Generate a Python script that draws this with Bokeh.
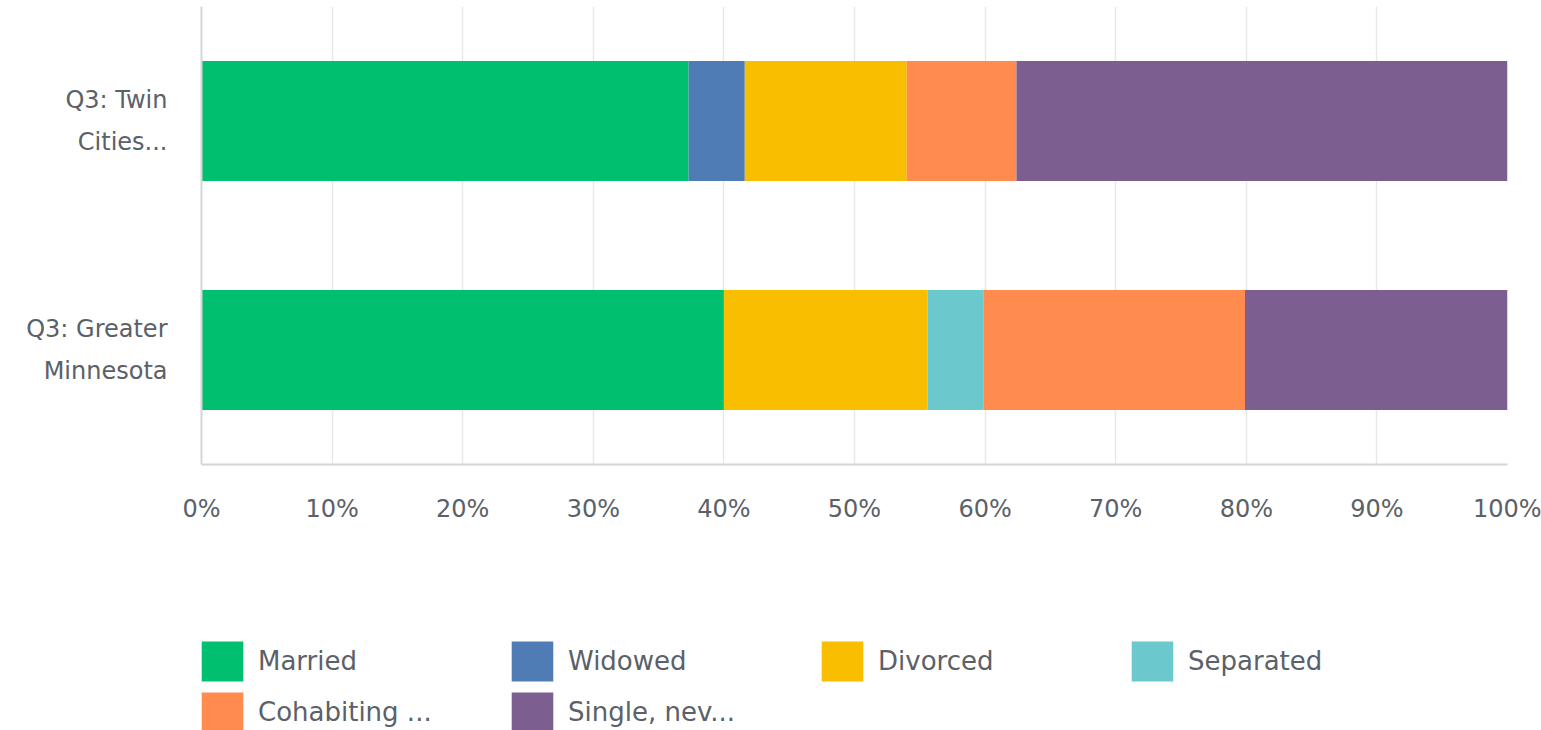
from bokeh.plotting import figure
from bokeh.layouts import column
from bokeh.models import (ColumnDataSource, FactorRange, Range1d, FixedTicker,
                          PrintfTickFormatter, Legend, LegendItem)
from bokeh.embed import file_html
from bokeh.resources import INLINE

# ---- data ----
categories = ["Q3: Greater\nMinnesota", "Q3: Twin\nCities..."]   # bottom -> top
married    = [40.0, 37.3]
widowed    = [0.0, 4.3]
divorced   = [15.6, 12.4]
separated  = [4.3, 0.0]
cohabiting = [20.0, 8.4]
single     = [20.1, 37.6]

series_keys   = ["married", "widowed", "divorced", "separated", "cohabiting", "single"]
legend_labels = ["Married", "Widowed", "Divorced", "Separated", "Cohabiting ...", "Single, nev..."]
colors        = ["#00BF6F", "#507CB6", "#F9BE00", "#6BC8CD", "#FF8B4F", "#7D5E90"]
x_ticks       = [0, 10, 20, 30, 40, 50, 60, 70, 80, 90, 100]

source = ColumnDataSource(dict(cat=categories, married=married, widowed=widowed,
                               divorced=divorced, separated=separated,
                               cohabiting=cohabiting, single=single))

FONT = "DejaVu Sans"
TXT = "#5b6168"

# ---- main chart ----
p = figure(width=1541, height=560, output_backend="svg", toolbar_location=None,
           y_range=FactorRange(factors=categories, range_padding=0),
           x_range=Range1d(0, 100),
           min_border_left=201, min_border_right=34, min_border_top=6,
           min_border_bottom=96)
p.outline_line_color = None

p.hbar_stack(series_keys, y="cat", height=0.524, color=colors,
             line_color=None, source=source)

p.xaxis.ticker = FixedTicker(ticks=x_ticks)
p.xaxis.formatter = PrintfTickFormatter(format="%d%%")
for ax in (p.xaxis, p.yaxis):
    ax.major_tick_line_color = None
    ax.minor_tick_line_color = None
    ax.major_label_text_font = FONT
    ax.major_label_text_font_size = "24px"
    ax.major_label_text_color = TXT
    ax.axis_line_color = "#d6d6d6"
    ax.axis_line_width = 2
p.xaxis.major_label_standoff = 24
p.yaxis.major_label_standoff = 28
p.yaxis.major_label_text_line_height = 1.5

p.xgrid.grid_line_color = "#e8e8e8"
p.xgrid.grid_line_width = 1.5
p.ygrid.grid_line_color = None

# ---- legend strip (its own renderers stay hidden; only the legend shows) ----
lp = figure(width=1541, height=170, output_backend="svg", toolbar_location=None,
            y_range=FactorRange(factors=categories), x_range=Range1d(0, 100),
            x_axis_type=None, y_axis_type=None,
            min_border_left=201, min_border_right=0, min_border_top=0, min_border_bottom=0)
lp.outline_line_color = None
lp.xgrid.visible = False
lp.ygrid.visible = False
legend_renderers = lp.hbar_stack(series_keys, y="cat", height=0.5, color=colors,
                                 line_color=None, source=source, visible=False)

items = [LegendItem(label=lab, renderers=[r]) for lab, r in zip(legend_labels, legend_renderers)]
legend = Legend(items=items, location=(-5, -7), orientation="horizontal", ncols=4,
                glyph_width=52, glyph_height=50, label_standoff=10, label_width=247,
                spacing=1, padding=0, margin=0, border_line_color=None,
                background_fill_alpha=0, label_text_font=FONT,
                label_text_font_size="26px", label_text_color=TXT)
lp.add_layout(legend, "center")

layout = column(p, lp, spacing=0)
open("out.html", "w").write(file_html(layout, INLINE))
